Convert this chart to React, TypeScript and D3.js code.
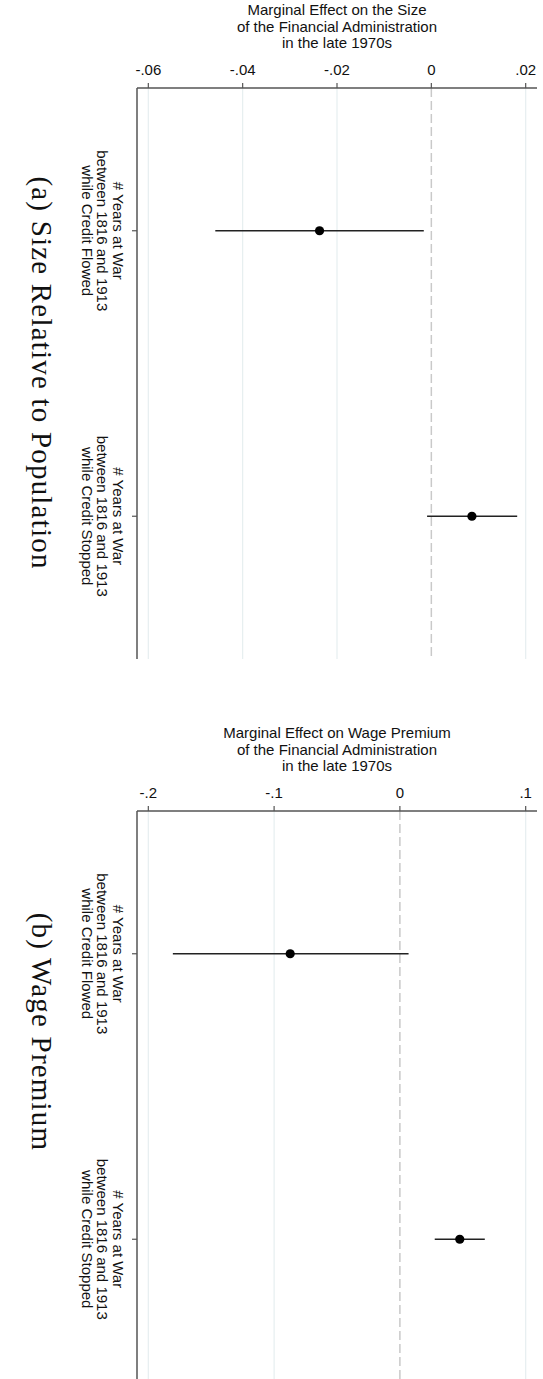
import React from "react";
import * as d3 from "d3";

const categories = ["Credit Flowed", "Credit Stopped"];
const categoryLabelLines = [
  ["# Years at War", "between 1816 and 1913", "while Credit Flowed"],
  ["# Years at War", "between 1816 and 1913", "while Credit Stopped"],
];

const sizeTitle = ["Marginal Effect on the Size", "of the Financial Administration", "in the late 1970s"];
const sizeTicks = [-0.06, -0.04, -0.02, 0, 0.02];
const sizeTickLabels = ["-.06", "-.04", "-.02", "0", ".02"];
const sizeEstimates = [-0.0237, 0.0086];
const sizeLower = [-0.0458, -0.0009];
const sizeUpper = [-0.0016, 0.0182];
const sizeCaption = "(a) Size Relative to Population";

const wageTitle = ["Marginal Effect on Wage Premium", "of the Financial Administration", "in the late 1970s"];
const wageTicks = [-0.2, -0.1, 0, 0.1];
const wageTickLabels = ["-.2", "-.1", "0", ".1"];
const wageEstimates = [-0.0872, 0.0476];
const wageLower = [-0.1805, 0.0277];
const wageUpper = [0.0069, 0.0675];
const wageCaption = "(b) Wage Premium";

const W = 543;
const H = 1379;
const SANS = "'Liberation Sans', Arial, Helvetica, sans-serif";
const SERIF = "'Liberation Serif', 'Times New Roman', serif";

type PanelProps = {
  top: number;
  title: string[];
  ticks: number[];
  tickLabels: string[];
  est: number[];
  lo: number[];
  hi: number[];
  caption: string;
  captionY: number;
};

function Panel({ top, title, ticks, tickLabels, est, lo, hi, caption, captionY }: PanelProps) {
  const axisTop = top;
  const plotH = 571;
  const left = 137;
  const right = 537;
  const span = ticks[ticks.length - 1] - ticks[0];
  const pad = span * 0.03;
  const x = d3.scaleLinear().domain([ticks[0] - pad, ticks[ticks.length - 1] + pad]).range([left, right]);
  const y = d3.scalePoint<string>().domain(categories).range([axisTop, axisTop + plotH]).padding(0.5);
  const titleCx = (left + right) / 2;
  return (
    <g>
      {title.map((t, i) => (
        <text key={i} x={titleCx} y={axisTop - 73 + i * 16.5} textAnchor="middle" fontFamily={SANS} fontSize={15} fill="#111">
          {t}
        </text>
      ))}
      {ticks.map((t, i) => (
        <line key={"g" + i} x1={x(t)} x2={x(t)} y1={axisTop} y2={axisTop + plotH}
          stroke={t === 0 ? "#c9c9c9" : "#e6eef0"} strokeWidth={t === 0 ? 1.5 : 1.2}
          strokeDasharray={t === 0 ? "9,4" : undefined} />
      ))}
      <line x1={left} x2={right} y1={axisTop} y2={axisTop} stroke="#555" strokeWidth={1.3} />
      <line x1={left} x2={left} y1={axisTop} y2={axisTop + plotH} stroke="#555" strokeWidth={1.5} />
      {ticks.map((t, i) => (
        <g key={"t" + i}>
          <line x1={x(t)} x2={x(t)} y1={axisTop} y2={axisTop - 5} stroke="#555" strokeWidth={1.2} />
          <text x={x(t)} y={axisTop - 13} textAnchor="middle" fontFamily={SANS} fontSize={15} fill="#111">
            {tickLabels[i]}
          </text>
        </g>
      ))}
      {categories.map((c, i) => {
        const cy = y(c) as number;
        return (
          <g key={c}>
            <line x1={left - 5} x2={left} y1={cy} y2={cy} stroke="#555" strokeWidth={1.2} />
            {categoryLabelLines[i].map((t, j) => (
              <text key={j} transform={`translate(${118 - j * 15.5},${cy}) rotate(90)`} textAnchor="middle"
                dominantBaseline="central" fontFamily={SANS} fontSize={15} fill="#111">
                {t}
              </text>
            ))}
            <line x1={x(lo[i])} x2={x(hi[i])} y1={cy} y2={cy} stroke="#222" strokeWidth={1.4} />
            <circle cx={x(est[i])} cy={cy} r={4.6} fill="#000" />
          </g>
        );
      })}
      <text transform={`translate(42,${captionY}) rotate(90)`} textAnchor="middle" dominantBaseline="central"
        fontFamily={SERIF} fontSize={29} letterSpacing={1.2} fill="#111">
        {caption}
      </text>
    </g>
  );
}

export default function App() {
  return (
    <svg width={W} height={H} viewBox={`0 0 ${W} ${H}`}
      style={{ position: "absolute", left: 0, top: 0, background: "#fff", display: "block" }}>
      <rect x={0} y={0} width={W} height={H} fill="#fff" />
      <Panel top={88} title={sizeTitle} ticks={sizeTicks} tickLabels={sizeTickLabels}
        est={sizeEstimates} lo={sizeLower} hi={sizeUpper} caption={sizeCaption} captionY={373} />
      <Panel top={811} title={wageTitle} ticks={wageTicks} tickLabels={wageTickLabels}
        est={wageEstimates} lo={wageLower} hi={wageUpper} caption={wageCaption} captionY={1032} />
    </svg>
  );
}
